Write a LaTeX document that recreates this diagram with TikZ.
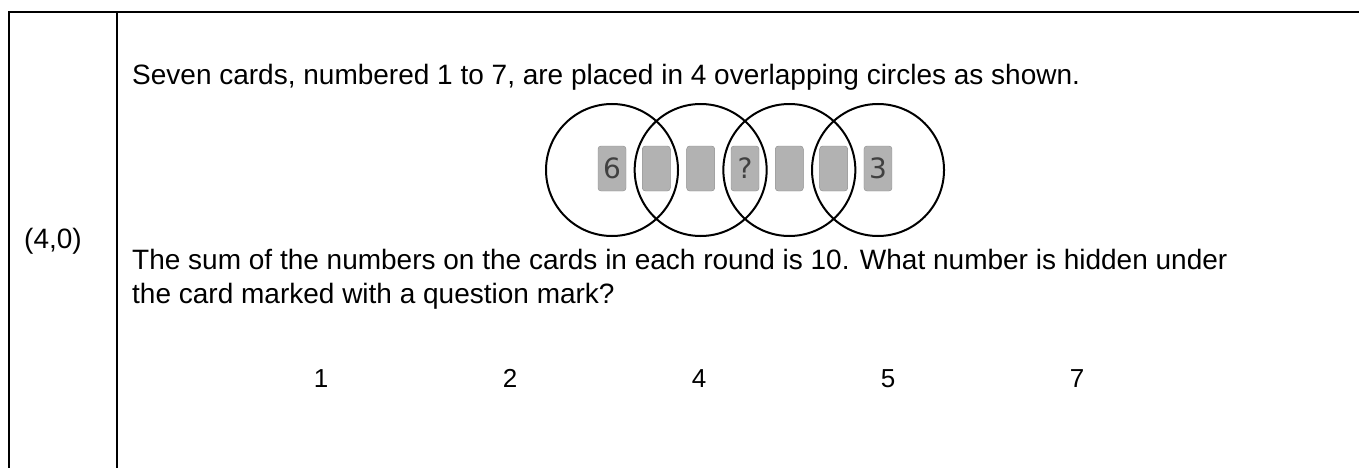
\documentclass[tikz,border=0pt]{standalone}
\usepackage{fontspec}
\setmainfont{Liberation Sans}
\newfontfamily\cardfont{DejaVu Sans}

\begin{document}
\begin{tikzpicture}[x=1pt, y=-1pt,
  rule/.style={line width=2pt},
  ring/.style={draw, circle, line width=2pt, minimum size=132pt, inner sep=0pt},
  card/.style={draw=black!45, fill=black!30, rounded corners=3pt,
    minimum width=28pt, minimum height=45pt, inner sep=0pt,
    font=\cardfont\fontsize{28}{28}\selectfont, text=black!75},
  txt/.style={anchor=base west, inner sep=0pt, font=\fontsize{28}{34}\selectfont},
  choice/.style={anchor=base, inner sep=0pt, font=\fontsize{26}{30}\selectfont}]
  \useasboundingbox (0,0) rectangle (1359,468);
  % 表格线
  \coordinate (TL) at (9,12);
  \coordinate (TR) at (1359,12);
  \coordinate (BL) at (9,468);
  \coordinate (DT) at (117,12);
  \coordinate (DB) at (117,468);
  \draw[rule] (BL) -- (TL) -- (TR);
  \draw[rule] (DT) -- (DB);
  \node[txt, anchor=base] (num) at (53,248) {(4,0)};
  % 题目
  \node[txt] (line1) at (132,85)
    {Seven cards, numbered 1 to 7, are placed in 4 overlapping circles as shown.};
  \node[txt] (line2) at (132,269)
    {The sum of the numbers on the cards in each round is 10. What number is hidden under};
  \node[txt] (line3) at (132,303) {the card marked with a question mark?};
  % 卡片与圆
  \foreach \i/\t in {1/6, 2/{}, 3/{}, 4/?, 5/{}, 6/{}, 7/3}
    \node[card] (c\i) at ({612+44.33*(\i-1)},168.5) {\t};
  \foreach \j in {1,...,4}
    \node[ring] (r\j) at ({612+88.67*(\j-1)},170) {};
  % 选项
  \foreach \k/\v in {1/1, 2/2, 3/4, 4/5, 5/7}
    \node[choice] (opt\k) at ({321+189*(\k-1)},387) {\v};
\end{tikzpicture}
\end{document}
